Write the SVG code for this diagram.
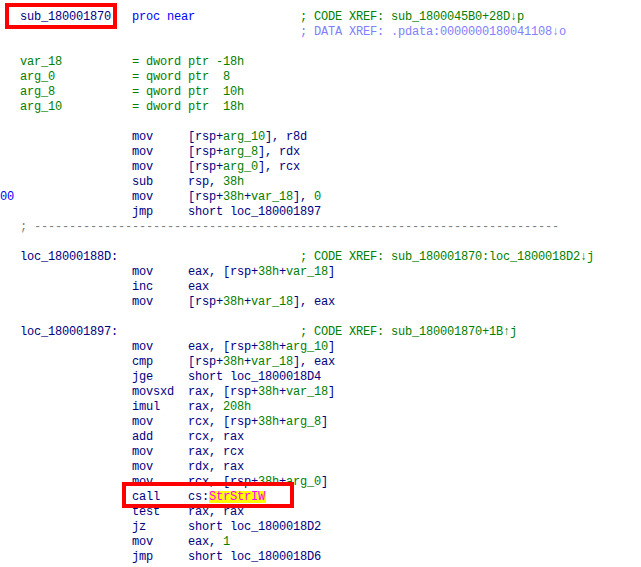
<svg xmlns="http://www.w3.org/2000/svg" width="641" height="567" viewBox="0 0 641 567" xml:space="preserve">
<style>
text{font-family:"Liberation Mono","DejaVu Sans Mono",monospace;font-size:12px;letter-spacing:-0.2px;white-space:pre;fill:#000080}
.g{fill:#008000}
.kw{fill:#0000ff}
.dx{fill:#8080ff}
.sep{fill:#808080}
.imp{fill:#ff00ff}
.box{fill:none;stroke:#ff0000;stroke-width:4}
</style>
<rect width="641" height="567" fill="#ffffff"/>
<g id="header">
<text x="20" y="20">sub_180001870</text>
<text x="132" y="20" class="kw">proc near</text>
<text x="300" y="20" class="g">; CODE XREF: sub_1800045B0+28D↓p</text>
<text x="300" y="35" class="dx">; DATA XREF: .pdata:0000000180041108↓o</text>
</g>
<g id="stack-vars">
<text x="20" y="65" class="g">var_18</text><text x="132" y="65" class="g">= dword ptr -18h</text>
<text x="20" y="80" class="g">arg_0</text><text x="132" y="80" class="g">= qword ptr  8</text>
<text x="20" y="95" class="g">arg_8</text><text x="132" y="95" class="g">= qword ptr  10h</text>
<text x="20" y="110" class="g">arg_10</text><text x="132" y="110" class="g">= dword ptr  18h</text>
</g>
<g id="prologue">
<text x="132" y="140">mov</text><text x="188" y="140">[rsp+<tspan class="g">arg_10</tspan>], r8d</text>
<text x="132" y="155">mov</text><text x="188" y="155">[rsp+<tspan class="g">arg_8</tspan>], rdx</text>
<text x="132" y="170">mov</text><text x="188" y="170">[rsp+<tspan class="g">arg_0</tspan>], rcx</text>
<text x="132" y="185">sub</text><text x="188" y="185">rsp, <tspan class="g">38h</tspan></text>
<text x="0" y="200" class="kw">00</text>
<text x="132" y="200">mov</text><text x="188" y="200">[rsp+<tspan class="g">38h</tspan>+<tspan class="g">var_18</tspan>], <tspan class="g">0</tspan></text>
<text x="132" y="215">jmp</text><text x="188" y="215">short loc_180001897</text>
<text x="20" y="230" class="sep">; ---------------------------------------------------------------------------</text>
</g>
<g id="loc_18000188D">
<text x="20" y="260">loc_18000188D:</text>
<text x="300" y="260" class="g">; CODE XREF: sub_180001870:loc_1800018D2↓j</text>
<text x="132" y="275">mov</text><text x="188" y="275">eax, [rsp+<tspan class="g">38h</tspan>+<tspan class="g">var_18</tspan>]</text>
<text x="132" y="290">inc</text><text x="188" y="290">eax</text>
<text x="132" y="305">mov</text><text x="188" y="305">[rsp+<tspan class="g">38h</tspan>+<tspan class="g">var_18</tspan>], eax</text>
</g>
<g id="loc_180001897">
<text x="20" y="335">loc_180001897:</text>
<text x="300" y="335" class="g">; CODE XREF: sub_180001870+1B↑j</text>
<text x="132" y="350">mov</text><text x="188" y="350">eax, [rsp+<tspan class="g">38h</tspan>+<tspan class="g">arg_10</tspan>]</text>
<text x="132" y="365">cmp</text><text x="188" y="365">[rsp+<tspan class="g">38h</tspan>+<tspan class="g">var_18</tspan>], eax</text>
<text x="132" y="380">jge</text><text x="188" y="380">short loc_1800018D4</text>
<text x="132" y="395">movsxd</text><text x="188" y="395">rax, [rsp+<tspan class="g">38h</tspan>+<tspan class="g">var_18</tspan>]</text>
<text x="132" y="410">imul</text><text x="188" y="410">rax, <tspan class="g">208h</tspan></text>
<text x="132" y="425">mov</text><text x="188" y="425">rcx, [rsp+<tspan class="g">38h</tspan>+<tspan class="g">arg_8</tspan>]</text>
<text x="132" y="440">add</text><text x="188" y="440">rcx, rax</text>
<text x="132" y="455">mov</text><text x="188" y="455">rax, rcx</text>
<text x="132" y="470">mov</text><text x="188" y="470">rdx, rax</text>
<text x="132" y="485">mov</text><text x="188" y="485">rcx, [rsp+<tspan class="g">38h</tspan>+<tspan class="g">arg_0</tspan>]</text>
<rect x="209" y="491" width="57" height="12" fill="#ffff00"/>
<text x="132" y="500">call</text><text x="188" y="500">cs:<tspan class="imp">StrStrIW</tspan></text>
<text x="132" y="515">test</text><text x="188" y="515">rax, rax</text>
<text x="132" y="530">jz</text><text x="188" y="530">short loc_1800018D2</text>
<text x="132" y="545">mov</text><text x="188" y="545">eax, <tspan class="g">1</tspan></text>
<text x="132" y="560">jmp</text><text x="188" y="560">short loc_1800018D6</text>
</g>
<g id="highlights">
<rect class="box" x="7" y="5" width="108" height="22"/>
<rect class="box" x="124" y="484" width="168" height="22"/>
</g>
</svg>
